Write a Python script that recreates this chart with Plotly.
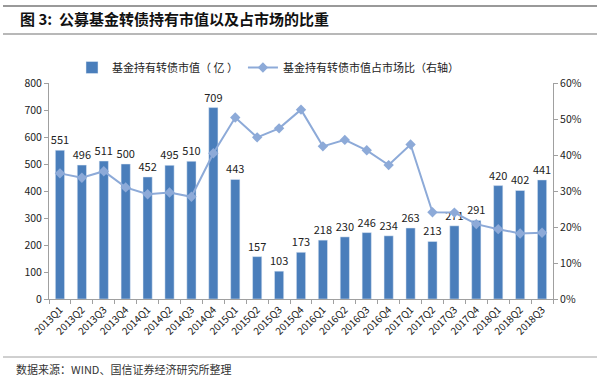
import plotly.graph_objects as go

quarters = ["2013Q1","2013Q2","2013Q3","2013Q4","2014Q1","2014Q2","2014Q3","2014Q4",
            "2015Q1","2015Q2","2015Q3","2015Q4","2016Q1","2016Q2","2016Q3","2016Q4",
            "2017Q1","2017Q2","2017Q3","2017Q4","2018Q1","2018Q2","2018Q3"]
holding_value = [551,496,511,500,452,495,510,709,443,157,103,173,218,230,246,234,
                 263,213,271,291,420,402,441]
market_share = [34.9,33.7,35.5,31.0,29.1,29.6,28.4,40.5,50.4,44.9,47.4,52.6,42.4,44.2,
                41.3,37.2,42.9,24.1,24.0,20.8,19.4,18.2,18.4]

L, R, T, B = 49, 47, 83, 82
W, H = 600, 381
PW, PH = W - L - R, H - T - B

def px(x):
    return (x - L) / PW

def py(y):
    return (H - B - y) / PH

font = "Microsoft YaHei, Noto Sans CJK SC, Arial, sans-serif"

fig = go.Figure()
fig.add_trace(go.Bar(
    x=quarters, y=holding_value, name="基金持有转债市值（ 亿 ）",
    marker=dict(color="#4A7EBB"),
    text=holding_value, textposition="outside", cliponaxis=False,
    constraintext="none",
    textfont=dict(size=11, color="#222222"),
))
fig.add_trace(go.Scatter(
    x=quarters, y=market_share, name="基金持有转债市值占市场比（右轴）",
    yaxis="y2", mode="lines+markers",
    line=dict(color="#8DAAD8", width=2),
    marker=dict(symbol="diamond", size=8, color="#8DAAD8"),
))

axis_line = "#A0A0A0"
fig.update_layout(
    width=W, height=H,
    margin=dict(l=L, r=R, t=T, b=B, autoexpand=False),
    plot_bgcolor="white", paper_bgcolor="white",
    font=dict(family=font, size=11, color="#222222"),
    bargap=0.58,
    showlegend=True,
    legend=dict(orientation="h", x=px(72), y=py(53), xanchor="left", yanchor="top",
                font=dict(size=11), itemwidth=30, tracegroupgap=0, bgcolor="rgba(0,0,0,0)"),
    xaxis=dict(type="category", range=[-0.5, len(quarters) - 0.5], tickangle=-45,
               tickfont=dict(size=10), automargin=False,
               showline=True, linecolor=axis_line, ticks="outside", tickson="boundaries",
               tickcolor=axis_line, ticklen=4, showgrid=False),
    yaxis=dict(range=[0, 800], dtick=100, showline=True, linecolor=axis_line, automargin=False,
               ticks="outside", tickcolor=axis_line, ticklen=4, showgrid=False,
               tickfont=dict(size=10.5), zeroline=False),
    yaxis2=dict(range=[0, 60], dtick=10, ticksuffix="%", overlaying="y", side="right",
                showline=True, linecolor=axis_line, ticks="outside", tickcolor=axis_line,
                automargin=False,
                ticklen=4, showgrid=False, tickfont=dict(size=10.5), zeroline=False),
    annotations=[
        dict(text="<b>图 3:  公募基金转债持有市值以及占市场的比重</b>", xref="paper", yref="paper",
             x=px(18), y=py(18), xanchor="left", yanchor="middle", showarrow=False,
             font=dict(size=15, color="#111111")),
        dict(text="数据来源：WIND、国信证券经济研究所整理", xref="paper", yref="paper",
             x=px(14), y=py(369), xanchor="left", yanchor="middle", showarrow=False,
             font=dict(size=11, color="#333333")),
    ],
    shapes=[
        dict(type="rect", xref="paper", yref="paper", x0=px(3), x1=px(597), y0=py(7), y1=py(5),
             line=dict(width=0), fillcolor="#999999", layer="above"),
        dict(type="line", xref="paper", yref="paper", x0=px(3), x1=px(597), y0=py(34), y1=py(34),
             line=dict(color="#A0A0A0", width=1.5)),
        dict(type="line", xref="paper", yref="paper", x0=px(3), x1=px(597), y0=py(357), y1=py(357),
             line=dict(color="#A0A0A0", width=1)),
    ],
)

fig.write_html("out.html", config={"displayModeBar": False},
               post_script="document.body.style.margin='0';document.body.style.overflow='hidden';")
